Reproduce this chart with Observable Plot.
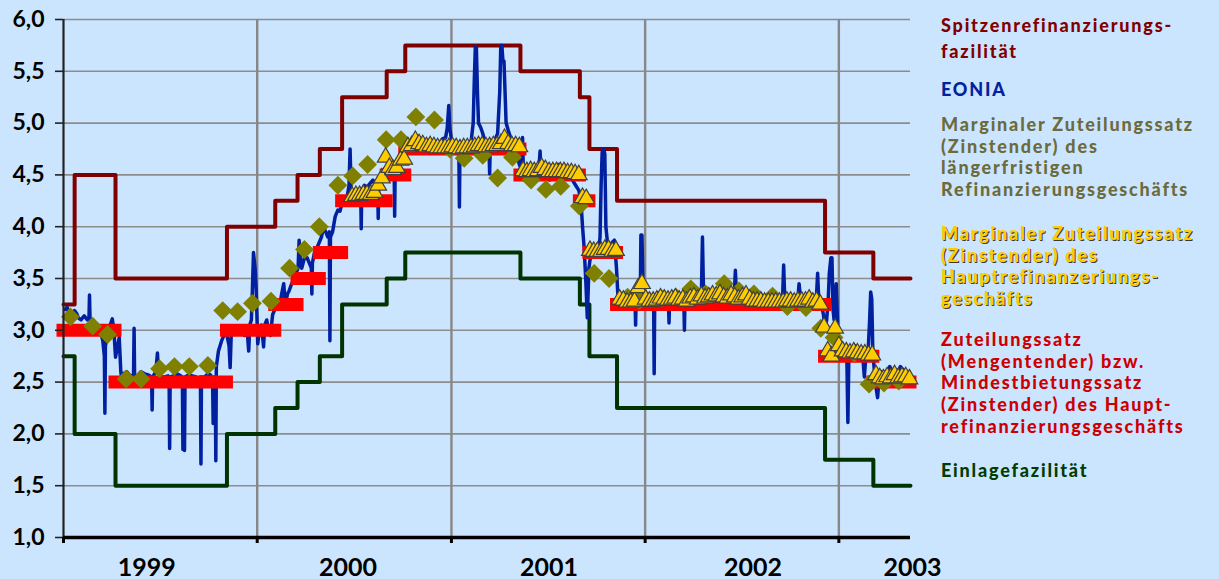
<!DOCTYPE html>
<html><head><meta charset="utf-8">
<script src="https://cdn.jsdelivr.net/npm/d3@7"></script>
<script src="https://cdn.jsdelivr.net/npm/@observablehq/plot@0.6"></script>
<style>
html,body{margin:0;padding:0;background:#cce5ff;width:1219px;height:579px;overflow:hidden;}
#wrap{position:relative;width:1219px;height:579px;}
#chart{position:absolute;left:0;top:0;}
#legend{position:absolute;left:941px;top:0;font-family:Lato,"Open Sans",sans-serif;font-weight:900;font-size:18px;letter-spacing:1.8px;}
.e{position:absolute;left:0;}
.l{display:block;white-space:nowrap;height:21.7px;line-height:21.7px;overflow:visible;}
</style></head><body><div id="wrap"><div id="chart"></div><div id="legend"></div></div>
<script>
// ---- Data ----
const endDate = "2003-05-16";
const yTicks = [1, 1.5, 2, 2.5, 3, 3.5, 4, 4.5, 5, 5.5, 6];
const yearStarts = ["1999-01-01", "2000-01-01", "2001-01-01", "2002-01-01", "2003-01-01"];
const yearLabelDates = ["1999-06-07", "2000-06-20", "2001-07-04", "2002-07-23", "2003-05-20"];

// Spitzenrefinanzierungsfazilität (marginal lending facility)
const spitzen = [
  ["1999-01-01",3.25],["1999-01-22",4.50],["1999-04-09",3.50],["1999-11-05",4.00],
  ["2000-02-04",4.25],["2000-03-17",4.50],["2000-04-28",4.75],["2000-06-09",5.25],
  ["2000-09-01",5.50],["2000-10-06",5.75],["2001-05-11",5.50],["2001-08-31",5.25],
  ["2001-09-18",4.75],["2001-11-09",4.25],["2002-12-06",3.75],["2003-03-07",3.50]
];
// Einlagefazilität (deposit facility)
const einlage = [
  ["1999-01-01",2.75],["1999-01-22",2.00],["1999-04-09",1.50],["1999-11-05",2.00],
  ["2000-02-04",2.25],["2000-03-17",2.50],["2000-04-28",2.75],["2000-06-09",3.25],
  ["2000-09-01",3.50],["2000-10-06",3.75],["2001-05-11",3.50],["2001-08-31",3.25],
  ["2001-09-18",2.75],["2001-11-09",2.25],["2002-12-06",1.75],["2003-03-07",1.50]
];
// Zuteilungssatz / Mindestbietungssatz (main refinancing rate)
const mro = [
  ["1999-01-01",3.00],["1999-04-09",2.50],["1999-11-05",3.00],["2000-02-04",3.25],
  ["2000-03-17",3.50],["2000-04-28",3.75],["2000-06-09",4.25],["2000-09-01",4.50],
  ["2000-10-06",4.75],["2001-05-11",4.50],["2001-08-31",4.25],["2001-09-18",3.75],
  ["2001-11-09",3.25],["2002-12-06",2.75],["2003-03-07",2.50]
];
// Marginaler Zuteilungssatz LRG (longer-term refinancing, monthly)
const ltro = [
  ["1999-01-14",3.13],["1999-02-25",3.04],["1999-03-25",2.96],["1999-04-29",2.53],["1999-05-27",2.53],
  ["1999-07-01",2.63],["1999-07-29",2.65],["1999-08-26",2.65],["1999-09-30",2.66],["1999-10-28",3.19],
  ["1999-11-25",3.18],["1999-12-23",3.26],["2000-01-27",3.28],["2000-03-02",3.60],["2000-03-30",3.78],
  ["2000-04-27",4.00],["2000-06-01",4.40],["2000-06-29",4.49],["2000-07-27",4.60],["2000-08-31",4.84],
  ["2000-09-28",4.84],["2000-10-26",5.06],["2000-11-30",5.03],["2000-12-29",4.75],["2001-01-25",4.66],
  ["2001-03-01",4.69],["2001-03-29",4.47],["2001-04-26",4.67],["2001-05-31",4.45],["2001-06-28",4.36],
  ["2001-07-26",4.39],["2001-08-30",4.20],["2001-09-27",3.55],["2001-10-25",3.50],["2001-11-29",3.32],
  ["2001-12-21",3.29],["2002-01-31",3.31],["2002-02-28",3.32],["2002-03-28",3.40],["2002-04-25",3.35],
  ["2002-05-30",3.45],["2002-06-27",3.38],["2002-07-25",3.35],["2002-08-29",3.33],["2002-09-26",3.23],
  ["2002-10-31",3.22],["2002-11-28",3.02],["2002-12-23",2.93],["2003-01-30",2.78],["2003-02-27",2.48],
  ["2003-03-27",2.49],["2003-04-24",2.51]
];
// Marginaler Zuteilungssatz HRG (main refinancing, weekly from 28 June 2000)
const hrgStart = "2000-06-28";
const hrgMarginal = [
  4.29,4.30,4.30,4.31,4.31,4.31,4.33,4.40,4.47,4.67,
  4.57,4.55,4.57,4.64,4.65,4.77,4.78,4.83,4.80,4.79,
  4.77,4.78,4.77,4.76,4.76,4.76,4.76,4.77,4.76,4.75,
  4.76,4.76,4.76,4.77,4.78,4.78,4.77,4.77,4.78,4.78,
  4.80,4.85,4.80,4.78,4.78,4.77,4.54,4.53,4.54,4.53,
  4.54,4.57,4.55,4.53,4.53,4.53,4.53,4.53,4.52,4.52,
  4.51,4.50,4.28,4.27,3.77,3.76,3.76,3.76,3.78,3.78,
  3.76,3.77,3.30,3.29,3.27,3.27,3.28,3.41,3.45,3.30,
  3.28,3.28,3.29,3.31,3.30,3.29,3.30,3.31,3.29,3.30,
  3.28,3.31,3.32,3.30,3.33,3.31,3.32,3.34,3.33,3.35,
  3.32,3.31,3.34,3.32,3.30,3.32,3.34,3.30,3.28,3.28,
  3.28,3.27,3.27,3.27,3.27,3.27,3.27,3.28,3.28,3.27,
  3.28,3.28,3.28,3.30,3.27,3.28,3.25,3.03,2.80,2.75,
  3.02,2.85,2.80,2.79,2.78,2.79,2.78,2.77,2.77,2.76,
  2.76,2.57,2.54,2.53,2.55,2.54,2.57,2.54,2.55,2.55,
  2.53
];
// EONIA (daily)
const eonia = [
["1999-01-04",3.20],["1999-01-08",3.22],["1999-01-12",3.15],["1999-01-15",3.19],["1999-01-19",3.10],["1999-01-22",3.19],
["1999-01-26",3.16],["1999-01-29",3.12],["1999-02-03",3.10],["1999-02-09",3.14],["1999-02-15",3.10],["1999-02-18",3.12],
["1999-02-19",3.34],["1999-02-20",3.10],["1999-02-25",3.09],["1999-03-02",3.05],["1999-03-08",3.02],["1999-03-12",2.98],
["1999-03-16",2.90],["1999-03-19",2.75],["1999-03-20",2.20],["1999-03-21",2.85],["1999-03-25",2.95],["1999-03-30",3.05],
["1999-04-03",3.11],["1999-04-06",3.00],["1999-04-09",2.74],["1999-04-13",2.85],["1999-04-16",2.93],["1999-04-19",2.60],
["1999-04-21",2.52],["1999-04-24",2.58],["1999-04-30",2.60],["1999-05-05",2.57],["1999-05-10",2.55],["1999-05-13",2.58],
["1999-05-14",3.02],["1999-05-15",2.55],["1999-05-20",2.56],["1999-05-27",2.60],["1999-06-03",2.58],["1999-06-10",2.57],
["1999-06-16",2.55],["1999-06-17",2.23],["1999-06-18",2.55],["1999-06-24",2.60],["1999-06-27",2.78],["1999-06-29",2.60],
["1999-07-03",2.55],["1999-07-10",2.55],["1999-07-17",2.56],["1999-07-19",2.55],["1999-07-20",1.86],["1999-07-21",2.55],
["1999-07-27",2.56],["1999-08-03",2.58],["1999-08-10",2.56],["1999-08-13",2.55],["1999-08-14",1.85],["1999-08-15",2.45],
["1999-08-16",2.40],["1999-08-17",1.84],["1999-08-18",2.55],["1999-08-25",2.57],["1999-09-01",2.56],["1999-09-08",2.55],
["1999-09-14",2.50],["1999-09-16",2.55],["1999-09-17",1.71],["1999-09-18",2.55],["1999-09-24",2.55],["1999-09-30",2.58],
["1999-10-05",2.57],["1999-10-09",2.50],["1999-10-10",2.10],["1999-10-11",2.55],["1999-10-14",2.50],["1999-10-15",1.74],
["1999-10-16",2.65],["1999-10-20",2.80],["1999-10-26",2.90],["1999-11-01",2.97],["1999-11-05",2.95],["1999-11-09",2.85],
["1999-11-11",2.64],["1999-11-13",2.95],["1999-11-20",3.00],["1999-11-26",3.00],["1999-12-02",3.02],["1999-12-08",2.95],
["1999-12-13",3.00],["1999-12-16",2.80],["1999-12-18",3.05],["1999-12-21",3.10],["1999-12-23",3.40],["1999-12-25",3.75],
["1999-12-28",3.60],["1999-12-30",3.40],
["2000-01-02",2.87],["2000-01-05",3.00],["2000-01-09",3.05],["2000-01-13",2.84],["2000-01-15",3.05],["2000-01-19",3.10],
["2000-01-22",3.00],["2000-01-26",2.95],["2000-01-30",3.15],["2000-02-03",3.20],["2000-02-08",3.25],["2000-02-12",3.22],
["2000-02-16",3.35],["2000-02-20",3.45],["2000-02-23",3.25],["2000-02-27",3.35],["2000-03-01",3.38],["2000-03-06",3.45],
["2000-03-10",3.50],["2000-03-14",3.55],["2000-03-18",3.60],["2000-03-20",3.87],["2000-03-22",3.70],["2000-03-25",3.60],
["2000-03-30",3.70],["2000-04-04",3.70],["2000-04-08",3.65],["2000-04-12",3.60],["2000-04-13",3.35],["2000-04-14",3.65],
["2000-04-18",3.75],["2000-04-23",3.80],["2000-04-27",3.85],["2000-05-01",3.90],["2000-05-05",4.00],["2000-05-09",3.95],
["2000-05-13",3.90],["2000-05-16",3.95],["2000-05-17",2.90],["2000-05-18",3.90],["2000-05-22",3.95],["2000-05-27",4.10],
["2000-06-01",4.16],["2000-06-05",4.15],["2000-06-10",4.25],["2000-06-15",4.28],["2000-06-19",4.30],["2000-06-22",4.40],
["2000-06-24",4.75],["2000-06-26",4.35],["2000-07-01",4.30],["2000-07-06",4.32],["2000-07-11",4.35],["2000-07-14",4.32],
["2000-07-15",3.98],["2000-07-16",4.35],["2000-07-21",4.40],["2000-07-26",4.38],["2000-08-01",4.42],["2000-08-06",4.45],
["2000-08-11",4.40],["2000-08-15",4.38],["2000-08-16",4.08],["2000-08-17",4.40],["2000-08-22",4.50],["2000-08-27",4.55],
["2000-09-01",4.58],["2000-09-06",4.55],["2000-09-11",4.60],["2000-09-15",4.58],["2000-09-16",4.10],["2000-09-17",4.55],
["2000-09-22",4.62],["2000-09-27",4.65],["2000-10-02",4.70],["2000-10-07",4.75],["2000-10-12",4.80],["2000-10-18",4.82],
["2000-10-24",4.80],["2000-10-30",4.82],["2000-11-05",4.80],["2000-11-11",4.78],["2000-11-17",4.80],["2000-11-23",4.82],
["2000-11-29",4.78],["2000-12-05",4.80],["2000-12-11",4.82],["2000-12-16",4.85],["2000-12-21",4.86],["2000-12-24",4.95],
["2000-12-27",5.17],["2000-12-29",4.95],
["2001-01-02",4.80],["2001-01-07",4.78],["2001-01-12",4.75],["2001-01-15",4.70],["2001-01-16",4.19],["2001-01-17",4.72],
["2001-01-22",4.75],["2001-01-28",4.78],["2001-02-02",4.80],["2001-02-07",4.82],["2001-02-11",5.00],["2001-02-13",5.40],
["2001-02-15",5.73],["2001-02-17",5.73],["2001-02-19",5.30],["2001-02-21",5.00],["2001-02-25",4.96],["2001-03-01",4.90],
["2001-03-06",4.80],["2001-03-10",4.75],["2001-03-13",4.70],["2001-03-14",4.51],["2001-03-15",4.75],["2001-03-20",4.80],
["2001-03-25",4.85],["2001-03-29",4.90],["2001-04-02",5.30],["2001-04-04",5.75],["2001-04-06",5.75],["2001-04-08",5.60],
["2001-04-10",5.60],["2001-04-12",5.30],["2001-04-14",5.00],["2001-04-18",4.93],["2001-04-23",4.85],["2001-04-28",4.75],
["2001-05-04",4.70],["2001-05-09",4.60],["2001-05-13",4.55],["2001-05-15",4.86],["2001-05-17",4.45],["2001-05-22",4.50],
["2001-05-28",4.55],["2001-06-03",4.50],["2001-06-09",4.52],["2001-06-14",4.50],["2001-06-17",4.73],["2001-06-19",4.50],
["2001-06-25",4.50],["2001-06-30",4.55],["2001-07-05",4.45],["2001-07-11",4.50],["2001-07-17",4.52],["2001-07-22",4.60],
["2001-07-24",4.55],["2001-07-30",4.50],["2001-08-05",4.50],["2001-08-11",4.48],["2001-08-17",4.45],["2001-08-23",4.40],
["2001-08-29",4.35],["2001-09-02",4.25],["2001-09-05",4.00],["2001-09-08",3.80],["2001-09-11",3.50],["2001-09-14",3.12],
["2001-09-17",3.60],["2001-09-21",3.75],["2001-09-26",3.80],["2001-10-01",3.80],["2001-10-05",3.75],["2001-10-08",3.90],
["2001-10-10",4.40],["2001-10-12",4.72],["2001-10-15",4.75],["2001-10-17",4.70],["2001-10-19",4.00],["2001-10-22",3.85],
["2001-10-27",3.80],["2001-10-31",3.85],["2001-11-04",3.87],["2001-11-08",3.60],["2001-11-11",3.30],["2001-11-16",3.30],
["2001-11-21",3.32],["2001-11-26",3.28],["2001-12-01",3.30],["2001-12-06",3.32],["2001-12-11",3.30],["2001-12-13",3.28],
["2001-12-14",3.05],["2001-12-15",3.30],["2001-12-20",3.32],["2001-12-23",3.40],["2001-12-24",3.92],["2001-12-26",3.92],
["2001-12-28",3.40],["2001-12-31",3.30],
["2002-01-04",3.30],["2002-01-10",3.28],["2002-01-15",3.30],["2002-01-17",3.25],["2002-01-18",2.58],["2002-01-19",3.28],
["2002-01-25",3.30],["2002-02-01",3.32],["2002-02-07",3.30],["2002-02-12",3.28],["2002-02-14",3.25],["2002-02-15",3.07],
["2002-02-16",3.28],["2002-02-22",3.30],["2002-02-28",3.32],["2002-03-06",3.30],["2002-03-12",3.28],["2002-03-15",3.25],
["2002-03-16",3.00],["2002-03-17",3.28],["2002-03-23",3.30],["2002-03-29",3.35],["2002-04-05",3.32],["2002-04-12",3.30],
["2002-04-17",3.35],["2002-04-19",3.90],["2002-04-21",3.35],["2002-04-27",3.32],["2002-05-04",3.32],["2002-05-11",3.33],
["2002-05-18",3.30],["2002-05-25",3.33],["2002-06-01",3.35],["2002-06-07",3.33],["2002-06-13",3.32],["2002-06-18",3.35],
["2002-06-20",3.58],["2002-06-22",3.35],["2002-06-28",3.35],["2002-07-05",3.32],["2002-07-12",3.30],["2002-07-19",3.32],
["2002-07-26",3.30],["2002-08-02",3.30],["2002-08-09",3.28],["2002-08-16",3.30],["2002-08-23",3.28],["2002-08-30",3.30],
["2002-09-06",3.32],["2002-09-12",3.30],["2002-09-17",3.32],["2002-09-19",3.63],["2002-09-21",3.30],["2002-09-27",3.30],
["2002-10-04",3.32],["2002-10-10",3.30],["2002-10-16",3.32],["2002-10-18",3.45],["2002-10-21",3.30],["2002-10-27",3.30],
["2002-11-03",3.32],["2002-11-10",3.30],["2002-11-17",3.30],["2002-11-20",3.35],["2002-11-22",3.55],["2002-11-24",3.30],
["2002-11-29",3.25],["2002-12-03",3.15],["2002-12-06",3.00],["2002-12-09",3.10],["2002-12-12",3.30],["2002-12-14",3.55],
["2002-12-17",3.70],["2002-12-19",3.70],["2002-12-21",3.20],["2002-12-23",3.10],["2002-12-27",3.45],["2002-12-30",3.00],
["2003-01-03",2.85],["2003-01-08",2.82],["2003-01-13",2.80],["2003-01-16",2.75],["2003-01-18",2.11],["2003-01-20",2.80],
["2003-01-25",2.82],["2003-02-01",2.85],["2003-02-06",2.80],["2003-02-11",2.80],["2003-02-15",2.75],["2003-02-18",2.55],
["2003-02-21",2.75],["2003-02-25",2.78],["2003-02-28",3.10],["2003-03-02",3.37],["2003-03-04",3.30],["2003-03-06",2.80],
["2003-03-09",2.60],["2003-03-12",2.45],["2003-03-15",2.35],["2003-03-18",2.55],["2003-03-23",2.60],["2003-03-28",2.55],
["2003-04-02",2.57],["2003-04-07",2.65],["2003-04-12",2.60],["2003-04-17",2.55],["2003-04-22",2.60],["2003-04-27",2.65],
["2003-05-02",2.62],["2003-05-07",2.60],["2003-05-12",2.58],["2003-05-15",2.55]
];

// ---- Build tables ----
const D = s => new Date(s);
const toPts = arr => arr.map(([d, v]) => ({date: D(d), value: v}));
const stepPts = arr => [...toPts(arr), {date: D(endDate), value: arr[arr.length - 1][1]}];
const mroSeg = mro.map(([d, v], i) => ({start: D(d), end: D(i + 1 < mro.length ? mro[i + 1][0] : endDate), value: v}));
const hrg0 = D(hrgStart);
const hrgPts = hrgMarginal.map((v, i) => ({date: d3.utcDay.offset(hrg0, 7 * i), value: v}));

const chart = Plot.plot({
  width: 941, height: 579,
  marginLeft: 63, marginRight: 31, marginTop: 19, marginBottom: 42,
  style: {background: "transparent", fontFamily: "Lato, 'Open Sans', sans-serif", overflow: "visible", color: "#000"},
  x: {type: "utc", domain: [D("1999-01-01"), D(endDate)]},
  y: {domain: [1, 6]},
  marks: [
    Plot.gridY(yTicks.slice(1), {stroke: "#8c8c8c", strokeOpacity: 1, strokeWidth: 1.6}),
    Plot.gridX(yearStarts.slice(1).map(D), {stroke: "#878787", strokeOpacity: 1, strokeWidth: 2.4}),
    Plot.line(stepPts(spitzen), {x: "date", y: "value", curve: "step-after", stroke: "#800000", strokeWidth: 4}),
    Plot.line(stepPts(einlage), {x: "date", y: "value", curve: "step-after", stroke: "#003300", strokeWidth: 4}),
    Plot.line(toPts(eonia), {x: "date", y: "value", stroke: "#0020a0", strokeWidth: 3.5, strokeLinejoin: "round"}),
    Plot.ruleY(mroSeg, {y: "value", x1: "start", x2: "end", stroke: "#ff0000", strokeWidth: 13, strokeLinecap: "square"}),
    Plot.dot(toPts(ltro), {x: "date", y: "value", symbol: "diamond2", r: 8.5, fill: "#808000", stroke: "none"}),
    Plot.dot(hrgPts, {x: "date", y: "value", symbol: "triangle", r: 6.2, fill: "#ffcc00", stroke: "#404040", strokeWidth: 1.2}),
    Plot.ruleX([D("1999-01-01")], {stroke: "#222", strokeWidth: 2.2}),
    Plot.ruleY([1], {stroke: "#000", strokeWidth: 3.5}),
    Plot.axisY(yTicks, {tickSize: 8, tickPadding: 11, tickFormat: d => d.toFixed(1).replace(".", ","), fontSize: 23, fontWeight: "bold", stroke: "#222", strokeWidth: 1.6, label: null}),
    Plot.axisX(yearStarts.map(D), {tickSize: 6, tickFormat: () => "", stroke: "#000", strokeWidth: 3, label: null}),
    Plot.axisX(yearLabelDates.map(D), {tickSize: 0, tickPadding: 21, tickFormat: d => String(d.getUTCFullYear()), fontSize: 25, fontWeight: "bold", label: null})
  ]
});
document.getElementById("chart").appendChild(chart);

// ---- Legend ----
const legendItems = [
  {lines: ["Spitzenrefinanzierungs-", "fazilität"], color: "#800000", top: 12, lh: 26},
  {lines: ["EONIA"], color: "#0022a0", top: 79},
  {lines: ["Marginaler Zuteilungssatz", "(Zinstender) des", "längerfristigen", "Refinanzierungsgeschäfts"], color: "#6b6b3c", top: 114},
  {lines: ["Marginaler Zuteilungssatz", "(Zinstender) des", "Hauptrefinanzeriungs-", "geschäfts"], color: "#ffcc00", top: 223, shadow: true},
  {lines: ["Zuteilungssatz", "(Mengentender) bzw.", "Mindestbietungssatz", "(Zinstender) des Haupt-", "refinanzierungsgeschäfts"], color: "#cc0000", top: 329},
  {lines: ["Einlagefazilität"], color: "#003c00", top: 460}
];
const leg = document.getElementById("legend");
for (const it of legendItems) {
  const div = document.createElement("div");
  div.className = "e";
  div.style.top = it.top + "px";
  div.style.color = it.color;
  if (it.shadow) div.style.textShadow = "1px 1px 0 #3a3a3a";
  for (const t of it.lines) {
    const ln = document.createElement("div");
    ln.className = "l";
    if (it.lh) { ln.style.height = it.lh + "px"; ln.style.lineHeight = it.lh + "px"; }
    ln.textContent = t;
    div.appendChild(ln);
  }
  leg.appendChild(div);
}
</script>
</body></html>
